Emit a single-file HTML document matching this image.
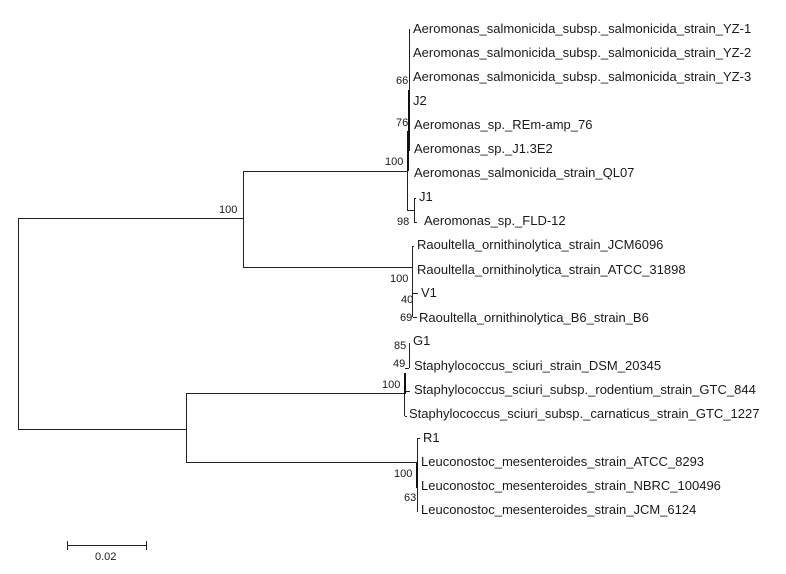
<!DOCTYPE html>
<html><head><meta charset="utf-8"><style>
html,body{margin:0;padding:0;background:#fff}
svg{display:block}
text{font-family:"Liberation Sans",Arial,sans-serif;fill:#1a1a1a}
.t{font-size:13px}
.n{font-size:11px}
</style></head><body>
<svg width="786" height="574" viewBox="0 0 786 574" xmlns="http://www.w3.org/2000/svg">
<g stroke="#222" stroke-width="1" fill="none" shape-rendering="crispEdges">
<path d="M18.5 218V429M18 218.5H243M18 429.5H186"/>
<path d="M243.5 171V267M243 171.5H407M243 267.5H413"/>
<path d="M186.5 394V463M186 393.5H404M186 462.5H417"/>
<path d="M409.5 29V90M407.5 171V210M407 210.5H414.500M414.500 198V222M414 198.500H416M414 222.500H417"/>
<path d="M412.500 246V317M413 293.500H418M413 317.500H417M412 246.500H414"/>
<path d="M409.500 343V368M405 368.500H409M405 391.500H410M404.500 394V416M405 416.500H407"/>
<path d="M417.500 438V512M417 438.500H420"/>
<path d="M67 545.500H146M67.500 541V550M146.500 541V550"/>
</g>
<g fill="#111" shape-rendering="crispEdges">
<rect x="408" y="90" width="2" height="61"/>
<rect x="407" y="131" width="2" height="40"/>
<rect x="404" y="373" width="2" height="21"/>
<rect x="416" y="463" width="2" height="25"/>
</g>
<g class="t">
<text x="413" y="33">Aeromonas_salmonicida_subsp._salmonicida_strain_YZ-1</text>
<text x="413" y="57">Aeromonas_salmonicida_subsp._salmonicida_strain_YZ-2</text>
<text x="413" y="81">Aeromonas_salmonicida_subsp._salmonicida_strain_YZ-3</text>
<text x="413" y="105">J2</text>
<text x="414" y="129">Aeromonas_sp._REm-amp_76</text>
<text x="414" y="153">Aeromonas_sp._J1.3E2</text>
<text x="414" y="177">Aeromonas_salmonicida_strain_QL07</text>
<text x="419" y="201">J1</text>
<text x="424" y="225">Aeromonas_sp._FLD-12</text>
<text x="417" y="249">Raoultella_ornithinolytica_strain_JCM6096</text>
<text x="417" y="274">Raoultella_ornithinolytica_strain_ATCC_31898</text>
<text x="421" y="297">V1</text>
<text x="419" y="322">Raoultella_ornithinolytica_B6_strain_B6</text>
<text x="413" y="345">G1</text>
<text x="414" y="370">Staphylococcus_sciuri_strain_DSM_20345</text>
<text x="414" y="394">Staphylococcus_sciuri_subsp._rodentium_strain_GTC_844</text>
<text x="409" y="418">Staphylococcus_sciuri_subsp._carnaticus_strain_GTC_1227</text>
<text x="423" y="442">R1</text>
<text x="421" y="466">Leuconostoc_mesenteroides_strain_ATCC_8293</text>
<text x="421" y="490">Leuconostoc_mesenteroides_strain_NBRC_100496</text>
<text x="421" y="514">Leuconostoc_mesenteroides_strain_JCM_6124</text>
</g>
<g class="n">
<text x="396" y="84">66</text>
<text x="396" y="126">76</text>
<text x="385" y="165">100</text>
<text x="397" y="225">98</text>
<text x="219" y="213">100</text>
<text x="390" y="282">100</text>
<text x="401" y="303">40</text>
<text x="400" y="321">69</text>
<text x="394" y="349">85</text>
<text x="393" y="367">49</text>
<text x="382" y="388">100</text>
<text x="394" y="477">100</text>
<text x="404" y="501">63</text>
<text x="95" y="560">0.02</text>
</g>
</svg>
</body></html>
